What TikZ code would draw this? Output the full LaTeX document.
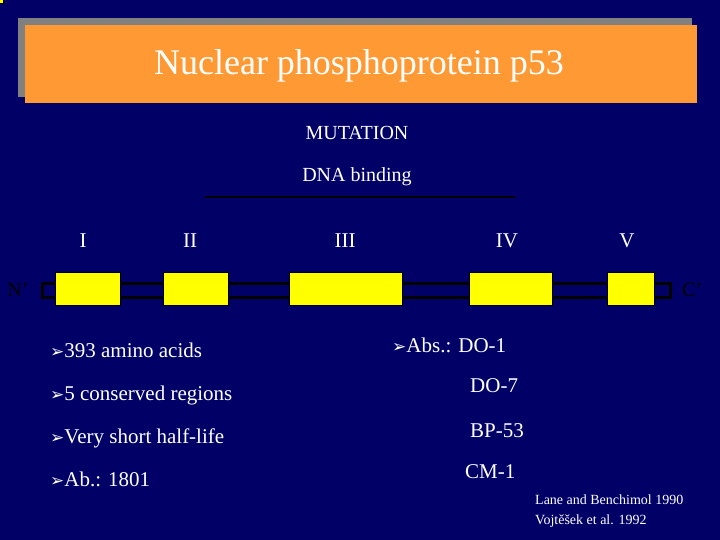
\documentclass[tikz,border=0pt]{standalone}
\usepackage{fontspec}
\setmainfont{Liberation Serif}
\newfontfamily\djv{DejaVu Sans}
\definecolor{navy}{RGB}{0,0,102}
\definecolor{orng}{RGB}{255,153,51}
\definecolor{shd}{RGB}{128,128,128}
\definecolor{ylw}{RGB}{255,255,0}
\tikzset{x=1pt,y=-1pt,
 wt/.style={text=white,inner sep=0pt,anchor=base west},
 dom/.style={fill=ylw,draw=black,line width=1pt},
 bul/.style={wt,font=\fontsize{21}{21}\selectfont},
 lab/.style={text=white,inner sep=0pt,font=\fontsize{20}{20}\selectfont}}
\newcommand{\arr}{{\djv\fontsize{17}{17}\selectfont ➢}}
\begin{document}
\begin{tikzpicture}
\useasboundingbox (0,0) rectangle (720,540);
\fill[navy] (0,0) rectangle (720,540);
\fill[shd] (18,18) rectangle (692,97);
\fill[orng] (25,25) rectangle (697,103);
\node[text=white,font=\fontsize{36}{36}\selectfont] (title) at (359,66) {Nuclear phosphoprotein p53};
\node[lab] (mut) at (357,133) {MUTATION};
\node[lab] (dna) at (357,177) {DNA binding};
\coordinate (l1) at (205,197); \coordinate (l2) at (515,197);
\draw[black,line width=2.5pt] (l1) -- (l2);
\foreach \t/\x in {I/83,II/190,III/345,IV/507,V/627}
  \node[lab,font=\fontsize{21}{21}\selectfont] (r\t) at (\x,241) {\t};
\draw[black,line width=3pt] (42,283) rectangle (670,297);
\node[dom,minimum width=0pt] (d1) at (0,0) {};
\fill[ylw,draw=black,line width=1pt] (55,272) rectangle (120,305);
\fill[ylw,draw=black,line width=1pt] (163,272) rectangle (228,305);
\fill[ylw,draw=black,line width=1pt] (289,272) rectangle (402,305);
\fill[ylw,draw=black,line width=1pt] (469,272) rectangle (552,305);
\fill[ylw,draw=black,line width=1pt] (607,272) rectangle (654,305);
\node[text=black,font=\fontsize{20}{20}\selectfont,inner sep=0pt] (N) at (18,290) {N'};
\node[text=black,font=\fontsize{20}{20}\selectfont,inner sep=0pt] (C) at (692,290) {C'};
\node[bul] (b1) at (50,357) {\arr393 amino acids};
\node[bul] (b2) at (50,400) {\arr5 conserved regions};
\node[bul] (b3) at (50,443) {\arr Very short half-life};
\node[bul] (b4) at (50,486) {\arr Ab.: 1801};
\node[bul] (a1) at (392,352) {\arr Abs.: DO-1};
\node[bul] (a2) at (470,392) {DO-7};
\node[bul] (a3) at (470,437) {BP-53};
\node[bul] (a4) at (465,478) {CM-1};
\node[wt,font=\fontsize{14}{14}\selectfont] (ref1) at (535,504) {Lane and Benchimol 1990};
\node[wt,font=\fontsize{14}{14}\selectfont] (ref2) at (535,524) {Vojtěšek et al. 1992};
\end{tikzpicture}
\end{document}
